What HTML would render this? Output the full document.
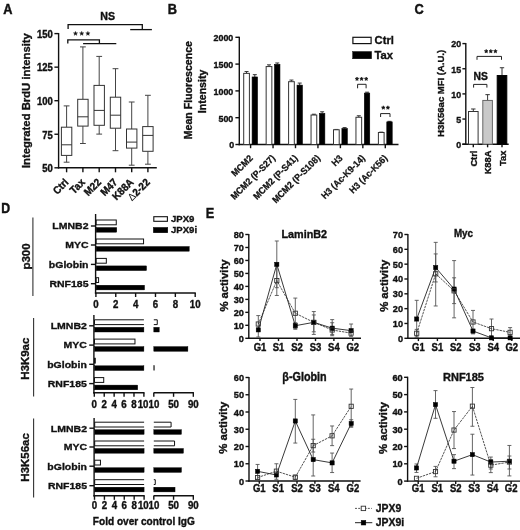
<!DOCTYPE html>
<html><head><meta charset="utf-8"><style>
html,body{margin:0;padding:0;background:#fff;overflow:hidden;}
svg{display:block;filter:grayscale(1);}
text{font-family:"Liberation Sans",sans-serif;}
</style></head><body>
<svg width="520" height="530" viewBox="0 0 520 530">
<rect x="0" y="0" width="520" height="530" fill="#fff"/>
<text transform="translate(3.30,14.00) scale(1.0,1.12)" font-size="12.8" text-anchor="start" font-weight="bold" fill="#111" stroke="#111" stroke-width="0.4" >A</text>
<line x1="58.60" y1="33.00" x2="58.60" y2="168.50" stroke="#111" stroke-width="1.4" />
<line x1="57.90" y1="167.80" x2="156.80" y2="167.80" stroke="#111" stroke-width="1.4" />
<line x1="54.40" y1="33.60" x2="58.60" y2="33.60" stroke="#111" stroke-width="1.4" />
<text transform="translate(52.80,37.90) scale(1.0,1.07)" font-size="9.5" text-anchor="end" font-weight="bold" fill="#111" stroke="#111" stroke-width="0.35" >150</text>
<line x1="54.40" y1="67.15" x2="58.60" y2="67.15" stroke="#111" stroke-width="1.4" />
<text transform="translate(52.80,71.45) scale(1.0,1.07)" font-size="9.5" text-anchor="end" font-weight="bold" fill="#111" stroke="#111" stroke-width="0.35" >125</text>
<line x1="54.40" y1="100.70" x2="58.60" y2="100.70" stroke="#111" stroke-width="1.4" />
<text transform="translate(52.80,105.00) scale(1.0,1.07)" font-size="9.5" text-anchor="end" font-weight="bold" fill="#111" stroke="#111" stroke-width="0.35" >100</text>
<line x1="54.40" y1="134.25" x2="58.60" y2="134.25" stroke="#111" stroke-width="1.4" />
<text transform="translate(52.80,138.55) scale(1.0,1.07)" font-size="9.5" text-anchor="end" font-weight="bold" fill="#111" stroke="#111" stroke-width="0.35" >75</text>
<line x1="54.40" y1="167.80" x2="58.60" y2="167.80" stroke="#111" stroke-width="1.4" />
<text transform="translate(52.80,172.10) scale(1.0,1.07)" font-size="9.5" text-anchor="end" font-weight="bold" fill="#111" stroke="#111" stroke-width="0.35" >50</text>
<text transform="translate(29.60,100.60) rotate(-90) scale(1.0,0.95)" font-size="11.3" text-anchor="middle" font-weight="bold" fill="#111" stroke="#111" stroke-width="0.35" >Integrated BrdU intensity</text>
<line x1="66.60" y1="167.80" x2="66.60" y2="172.30" stroke="#111" stroke-width="1.4" />
<line x1="82.90" y1="167.80" x2="82.90" y2="172.30" stroke="#111" stroke-width="1.4" />
<line x1="99.20" y1="167.80" x2="99.20" y2="172.30" stroke="#111" stroke-width="1.4" />
<line x1="115.50" y1="167.80" x2="115.50" y2="172.30" stroke="#111" stroke-width="1.4" />
<line x1="131.70" y1="167.80" x2="131.70" y2="172.30" stroke="#111" stroke-width="1.4" />
<line x1="147.90" y1="167.80" x2="147.90" y2="172.30" stroke="#111" stroke-width="1.4" />
<line x1="66.60" y1="105.90" x2="66.60" y2="127.20" stroke="#444" stroke-width="1.0" />
<line x1="66.60" y1="155.40" x2="66.60" y2="162.20" stroke="#444" stroke-width="1.0" />
<line x1="63.70" y1="105.90" x2="69.50" y2="105.90" stroke="#444" stroke-width="1.0" />
<line x1="63.70" y1="162.20" x2="69.50" y2="162.20" stroke="#444" stroke-width="1.0" />
<rect x="61.40" y="127.20" width="10.40" height="28.20" fill="#fff" stroke="#333" stroke-width="1.0" />
<line x1="61.40" y1="144.80" x2="71.80" y2="144.80" stroke="#333" stroke-width="1.0" />
<line x1="82.90" y1="46.90" x2="82.90" y2="99.30" stroke="#444" stroke-width="1.0" />
<line x1="82.90" y1="126.10" x2="82.90" y2="143.50" stroke="#444" stroke-width="1.0" />
<line x1="80.00" y1="46.90" x2="85.80" y2="46.90" stroke="#444" stroke-width="1.0" />
<line x1="80.00" y1="143.50" x2="85.80" y2="143.50" stroke="#444" stroke-width="1.0" />
<rect x="77.70" y="99.30" width="10.40" height="26.80" fill="#fff" stroke="#333" stroke-width="1.0" />
<line x1="77.70" y1="116.80" x2="88.10" y2="116.80" stroke="#333" stroke-width="1.0" />
<line x1="99.20" y1="56.40" x2="99.20" y2="85.40" stroke="#444" stroke-width="1.0" />
<line x1="99.20" y1="125.30" x2="99.20" y2="134.10" stroke="#444" stroke-width="1.0" />
<line x1="96.30" y1="56.40" x2="102.10" y2="56.40" stroke="#444" stroke-width="1.0" />
<line x1="96.30" y1="134.10" x2="102.10" y2="134.10" stroke="#444" stroke-width="1.0" />
<rect x="94.00" y="85.40" width="10.40" height="39.90" fill="#fff" stroke="#333" stroke-width="1.0" />
<line x1="94.00" y1="110.40" x2="104.40" y2="110.40" stroke="#333" stroke-width="1.0" />
<line x1="115.50" y1="68.70" x2="115.50" y2="97.20" stroke="#444" stroke-width="1.0" />
<line x1="115.50" y1="128.20" x2="115.50" y2="150.70" stroke="#444" stroke-width="1.0" />
<line x1="112.60" y1="68.70" x2="118.40" y2="68.70" stroke="#444" stroke-width="1.0" />
<line x1="112.60" y1="150.70" x2="118.40" y2="150.70" stroke="#444" stroke-width="1.0" />
<rect x="110.30" y="97.20" width="10.40" height="31.00" fill="#fff" stroke="#333" stroke-width="1.0" />
<line x1="110.30" y1="115.20" x2="120.70" y2="115.20" stroke="#333" stroke-width="1.0" />
<line x1="131.70" y1="102.00" x2="131.70" y2="129.00" stroke="#444" stroke-width="1.0" />
<line x1="131.70" y1="148.10" x2="131.70" y2="165.20" stroke="#444" stroke-width="1.0" />
<line x1="128.80" y1="102.00" x2="134.60" y2="102.00" stroke="#444" stroke-width="1.0" />
<line x1="128.80" y1="165.20" x2="134.60" y2="165.20" stroke="#444" stroke-width="1.0" />
<rect x="126.50" y="129.00" width="10.40" height="19.10" fill="#fff" stroke="#333" stroke-width="1.0" />
<line x1="126.50" y1="142.10" x2="136.90" y2="142.10" stroke="#333" stroke-width="1.0" />
<line x1="147.90" y1="95.30" x2="147.90" y2="126.60" stroke="#444" stroke-width="1.0" />
<line x1="147.90" y1="151.30" x2="147.90" y2="164.20" stroke="#444" stroke-width="1.0" />
<line x1="145.00" y1="95.30" x2="150.80" y2="95.30" stroke="#444" stroke-width="1.0" />
<line x1="145.00" y1="164.20" x2="150.80" y2="164.20" stroke="#444" stroke-width="1.0" />
<rect x="142.70" y="126.60" width="10.40" height="24.70" fill="#fff" stroke="#333" stroke-width="1.0" />
<line x1="142.70" y1="135.40" x2="153.10" y2="135.40" stroke="#333" stroke-width="1.0" />
<text transform="translate(69.20,183.00) rotate(-45) scale(1.0,1.08)" font-size="9.8" text-anchor="end" font-weight="bold" fill="#111" stroke="#111" stroke-width="0.35" >Ctrl</text>
<text transform="translate(85.50,183.00) rotate(-45) scale(1.0,1.08)" font-size="9.8" text-anchor="end" font-weight="bold" fill="#111" stroke="#111" stroke-width="0.35" >Tax</text>
<text transform="translate(101.80,183.00) rotate(-45) scale(1.0,1.08)" font-size="9.8" text-anchor="end" font-weight="bold" fill="#111" stroke="#111" stroke-width="0.35" >M22</text>
<text transform="translate(118.10,183.00) rotate(-45) scale(1.0,1.08)" font-size="9.8" text-anchor="end" font-weight="bold" fill="#111" stroke="#111" stroke-width="0.35" >M47</text>
<text transform="translate(134.30,183.00) rotate(-45) scale(1.0,1.08)" font-size="9.8" text-anchor="end" font-weight="bold" fill="#111" stroke="#111" stroke-width="0.35" >K88A</text>
<text transform="translate(150.50,183.0) rotate(-45) scale(1,1.08)" font-size="9.8" text-anchor="end" fill="#111"><tspan font-weight="normal">&#916;</tspan><tspan font-weight="bold" stroke="#111" stroke-width="0.35">2-22</tspan></text>
<path d="M68.1,29 V24.6 H142.3 V29.6" stroke="#111" stroke-width="1.3" fill="none" />
<line x1="130.20" y1="29.60" x2="151.90" y2="29.60" stroke="#111" stroke-width="1.3" />
<text transform="translate(107.70,19.80)" font-size="10.6" text-anchor="middle" font-weight="bold" fill="#111" stroke="#111" stroke-width="0.35" >NS</text>
<path d="M67.8,43.6 V39.9 H99.4 V43.6" stroke="#111" stroke-width="1.3" fill="none" />
<line x1="83.10" y1="43.60" x2="116.30" y2="43.60" stroke="#111" stroke-width="1.3" />
<polygon points="75.50,31.23 76.11,32.69 77.69,32.82 76.48,33.85 76.85,35.39 75.50,34.56 74.15,35.39 74.52,33.85 73.31,32.82 74.89,32.69" fill="#111" stroke="#111" stroke-width="0.3" stroke-linejoin="round"/>
<polygon points="81.70,31.23 82.31,32.69 83.89,32.82 82.68,33.85 83.05,35.39 81.70,34.56 80.35,35.39 80.72,33.85 79.51,32.82 81.09,32.69" fill="#111" stroke="#111" stroke-width="0.3" stroke-linejoin="round"/>
<polygon points="87.90,31.23 88.51,32.69 90.09,32.82 88.88,33.85 89.25,35.39 87.90,34.56 86.55,35.39 86.92,33.85 85.71,32.82 87.29,32.69" fill="#111" stroke="#111" stroke-width="0.3" stroke-linejoin="round"/>
<text transform="translate(167.80,13.80) scale(1.0,1.12)" font-size="12.8" text-anchor="start" font-weight="bold" fill="#111" stroke="#111" stroke-width="0.4" >B</text>
<line x1="239.30" y1="36.70" x2="239.30" y2="145.20" stroke="#111" stroke-width="1.4" />
<line x1="238.60" y1="144.50" x2="398.50" y2="144.50" stroke="#111" stroke-width="1.4" />
<line x1="235.40" y1="144.50" x2="239.30" y2="144.50" stroke="#111" stroke-width="1.4" />
<text transform="translate(234.30,148.40)" font-size="8.9" text-anchor="end" font-weight="bold" fill="#111" stroke="#111" stroke-width="0.35" >0</text>
<line x1="235.40" y1="117.70" x2="239.30" y2="117.70" stroke="#111" stroke-width="1.4" />
<text transform="translate(233.30,121.60)" font-size="8.9" text-anchor="end" font-weight="bold" fill="#111" stroke="#111" stroke-width="0.35" >500</text>
<line x1="235.40" y1="90.90" x2="239.30" y2="90.90" stroke="#111" stroke-width="1.4" />
<text transform="translate(233.30,94.80)" font-size="8.9" text-anchor="end" font-weight="bold" fill="#111" stroke="#111" stroke-width="0.35" >1000</text>
<line x1="235.40" y1="64.10" x2="239.30" y2="64.10" stroke="#111" stroke-width="1.4" />
<text transform="translate(233.30,68.00)" font-size="8.9" text-anchor="end" font-weight="bold" fill="#111" stroke="#111" stroke-width="0.35" >1500</text>
<line x1="235.40" y1="37.30" x2="239.30" y2="37.30" stroke="#111" stroke-width="1.4" />
<text transform="translate(233.30,41.20)" font-size="8.9" text-anchor="end" font-weight="bold" fill="#111" stroke="#111" stroke-width="0.35" >2000</text>
<text transform="translate(192.30,90.20) rotate(-90) scale(1.0,0.95)" font-size="10.6" text-anchor="middle" font-weight="bold" fill="#111" stroke="#111" stroke-width="0.35" >Mean Fluorescence</text>
<text transform="translate(206.30,91.40) rotate(-90) scale(1.0,0.95)" font-size="10.6" text-anchor="middle" font-weight="bold" fill="#111" stroke="#111" stroke-width="0.35" >Intensity</text>
<line x1="246.55" y1="71.55" x2="246.55" y2="73.37" stroke="#333" stroke-width="1.0" />
<line x1="244.55" y1="71.55" x2="248.55" y2="71.55" stroke="#333" stroke-width="1.0" />
<line x1="254.80" y1="74.66" x2="254.80" y2="76.96" stroke="#333" stroke-width="1.0" />
<line x1="252.80" y1="74.66" x2="256.80" y2="74.66" stroke="#333" stroke-width="1.0" />
<rect x="243.70" y="73.37" width="5.70" height="71.13" fill="#fff" stroke="#333" stroke-width="1.0" />
<rect x="252.10" y="76.96" width="5.40" height="67.54" fill="#000" stroke="#000" stroke-width="0.6" />
<line x1="250.60" y1="144.50" x2="250.60" y2="148.20" stroke="#111" stroke-width="1.4" />
<line x1="269.00" y1="64.85" x2="269.00" y2="66.57" stroke="#333" stroke-width="1.0" />
<line x1="267.00" y1="64.85" x2="271.00" y2="64.85" stroke="#333" stroke-width="1.0" />
<line x1="277.25" y1="62.97" x2="277.25" y2="64.37" stroke="#333" stroke-width="1.0" />
<line x1="275.25" y1="62.97" x2="279.25" y2="62.97" stroke="#333" stroke-width="1.0" />
<rect x="266.15" y="66.57" width="5.70" height="77.93" fill="#fff" stroke="#333" stroke-width="1.0" />
<rect x="274.55" y="64.37" width="5.40" height="80.13" fill="#000" stroke="#000" stroke-width="0.6" />
<line x1="273.05" y1="144.50" x2="273.05" y2="148.20" stroke="#111" stroke-width="1.4" />
<line x1="291.45" y1="80.07" x2="291.45" y2="81.68" stroke="#333" stroke-width="1.0" />
<line x1="289.45" y1="80.07" x2="293.45" y2="80.07" stroke="#333" stroke-width="1.0" />
<line x1="299.70" y1="83.07" x2="299.70" y2="85.11" stroke="#333" stroke-width="1.0" />
<line x1="297.70" y1="83.07" x2="301.70" y2="83.07" stroke="#333" stroke-width="1.0" />
<rect x="288.60" y="81.68" width="5.70" height="62.82" fill="#fff" stroke="#333" stroke-width="1.0" />
<rect x="297.00" y="85.11" width="5.40" height="59.39" fill="#000" stroke="#000" stroke-width="0.6" />
<line x1="295.50" y1="144.50" x2="295.50" y2="148.20" stroke="#111" stroke-width="1.4" />
<line x1="313.90" y1="114.22" x2="313.90" y2="115.02" stroke="#333" stroke-width="1.0" />
<line x1="311.90" y1="114.22" x2="315.90" y2="114.22" stroke="#333" stroke-width="1.0" />
<line x1="322.15" y1="111.80" x2="322.15" y2="113.47" stroke="#333" stroke-width="1.0" />
<line x1="320.15" y1="111.80" x2="324.15" y2="111.80" stroke="#333" stroke-width="1.0" />
<rect x="311.05" y="115.02" width="5.70" height="29.48" fill="#fff" stroke="#333" stroke-width="1.0" />
<rect x="319.45" y="113.47" width="5.40" height="31.03" fill="#000" stroke="#000" stroke-width="0.6" />
<line x1="317.95" y1="144.50" x2="317.95" y2="148.20" stroke="#111" stroke-width="1.4" />
<line x1="336.35" y1="129.44" x2="336.35" y2="129.76" stroke="#333" stroke-width="1.0" />
<line x1="334.35" y1="129.44" x2="338.35" y2="129.44" stroke="#333" stroke-width="1.0" />
<line x1="344.60" y1="127.62" x2="344.60" y2="128.53" stroke="#333" stroke-width="1.0" />
<line x1="342.60" y1="127.62" x2="346.60" y2="127.62" stroke="#333" stroke-width="1.0" />
<rect x="333.50" y="129.76" width="5.70" height="14.74" fill="#fff" stroke="#333" stroke-width="1.0" />
<rect x="341.90" y="128.53" width="5.40" height="15.97" fill="#000" stroke="#000" stroke-width="0.6" />
<line x1="340.40" y1="144.50" x2="340.40" y2="148.20" stroke="#111" stroke-width="1.4" />
<line x1="358.80" y1="115.77" x2="358.80" y2="117.27" stroke="#333" stroke-width="1.0" />
<line x1="356.80" y1="115.77" x2="360.80" y2="115.77" stroke="#333" stroke-width="1.0" />
<line x1="367.05" y1="92.19" x2="367.05" y2="93.10" stroke="#333" stroke-width="1.0" />
<line x1="365.05" y1="92.19" x2="369.05" y2="92.19" stroke="#333" stroke-width="1.0" />
<rect x="355.95" y="117.27" width="5.70" height="27.23" fill="#fff" stroke="#333" stroke-width="1.0" />
<rect x="364.35" y="93.10" width="5.40" height="51.40" fill="#000" stroke="#000" stroke-width="0.6" />
<line x1="362.85" y1="144.50" x2="362.85" y2="148.20" stroke="#111" stroke-width="1.4" />
<line x1="381.25" y1="132.17" x2="381.25" y2="132.49" stroke="#333" stroke-width="1.0" />
<line x1="379.25" y1="132.17" x2="383.25" y2="132.17" stroke="#333" stroke-width="1.0" />
<line x1="389.50" y1="121.34" x2="389.50" y2="121.88" stroke="#333" stroke-width="1.0" />
<line x1="387.50" y1="121.34" x2="391.50" y2="121.34" stroke="#333" stroke-width="1.0" />
<rect x="378.40" y="132.49" width="5.70" height="12.01" fill="#fff" stroke="#333" stroke-width="1.0" />
<rect x="386.80" y="121.88" width="5.40" height="22.62" fill="#000" stroke="#000" stroke-width="0.6" />
<line x1="385.30" y1="144.50" x2="385.30" y2="148.20" stroke="#111" stroke-width="1.4" />
<text transform="translate(253.40,158.80) rotate(-45) scale(1.0,1.06)" font-size="8.8" text-anchor="end" font-weight="bold" fill="#111" stroke="#111" stroke-width="0.25" >MCM2</text>
<text transform="translate(275.85,158.80) rotate(-45) scale(1.0,1.06)" font-size="8.8" text-anchor="end" font-weight="bold" fill="#111" stroke="#111" stroke-width="0.25" >MCM2 (P-S27)</text>
<text transform="translate(298.30,158.80) rotate(-45) scale(1.0,1.06)" font-size="8.8" text-anchor="end" font-weight="bold" fill="#111" stroke="#111" stroke-width="0.25" >MCM2 (P-S41)</text>
<text transform="translate(320.75,158.80) rotate(-45) scale(1.0,1.06)" font-size="8.8" text-anchor="end" font-weight="bold" fill="#111" stroke="#111" stroke-width="0.25" >MCM2 (P-S108)</text>
<text transform="translate(343.20,158.80) rotate(-45) scale(1.0,1.06)" font-size="8.8" text-anchor="end" font-weight="bold" fill="#111" stroke="#111" stroke-width="0.25" >H3</text>
<text transform="translate(365.65,158.80) rotate(-45) scale(1.0,1.06)" font-size="8.8" text-anchor="end" font-weight="bold" fill="#111" stroke="#111" stroke-width="0.25" >H3 (Ac-K9-14)</text>
<text transform="translate(388.10,158.80) rotate(-45) scale(1.0,1.06)" font-size="8.8" text-anchor="end" font-weight="bold" fill="#111" stroke="#111" stroke-width="0.25" >H3 (Ac-K56)</text>
<rect x="352.90" y="37.30" width="18.20" height="6.30" fill="#fff" stroke="#111" stroke-width="1.2" />
<text transform="translate(374.60,43.60)" font-size="11.2" text-anchor="start" font-weight="bold" fill="#111" stroke="#111" stroke-width="0.35" >Ctrl</text>
<rect x="352.60" y="51.50" width="19.00" height="7.30" fill="#000" stroke="#000" stroke-width="0.4" />
<text transform="translate(374.60,58.90)" font-size="11.2" text-anchor="start" font-weight="bold" fill="#111" stroke="#111" stroke-width="0.35" >Tax</text>
<polygon points="357.00,76.99 357.50,78.20 358.81,78.30 357.81,79.15 358.12,80.43 357.00,79.75 355.88,80.43 356.19,79.15 355.19,78.30 356.50,78.20" fill="#111" stroke="#111" stroke-width="0.6" stroke-linejoin="round"/>
<polygon points="361.60,76.99 362.10,78.20 363.41,78.30 362.41,79.15 362.72,80.43 361.60,79.75 360.48,80.43 360.79,79.15 359.79,78.30 361.10,78.20" fill="#111" stroke="#111" stroke-width="0.6" stroke-linejoin="round"/>
<polygon points="366.20,76.99 366.70,78.20 368.01,78.30 367.01,79.15 367.32,80.43 366.20,79.75 365.08,80.43 365.39,79.15 364.39,78.30 365.70,78.20" fill="#111" stroke="#111" stroke-width="0.6" stroke-linejoin="round"/>
<path d="M357.6,88.3 V84.3 H366.1 V88.3" stroke="#222" stroke-width="1.0" fill="none" />
<polygon points="383.30,105.79 383.80,107.00 385.11,107.10 384.11,107.95 384.42,109.23 383.30,108.55 382.18,109.23 382.49,107.95 381.49,107.10 382.80,107.00" fill="#111" stroke="#111" stroke-width="0.6" stroke-linejoin="round"/>
<polygon points="387.90,105.79 388.40,107.00 389.71,107.10 388.71,107.95 389.02,109.23 387.90,108.55 386.78,109.23 387.09,107.95 386.09,107.10 387.40,107.00" fill="#111" stroke="#111" stroke-width="0.6" stroke-linejoin="round"/>
<path d="M380.6,117 V113.6 H390.0 V117" stroke="#222" stroke-width="1.0" fill="none" />
<text transform="translate(414.60,13.70) scale(1.0,1.12)" font-size="12.8" text-anchor="start" font-weight="bold" fill="#111" stroke="#111" stroke-width="0.4" >C</text>
<line x1="465.80" y1="43.00" x2="465.80" y2="144.90" stroke="#111" stroke-width="1.4" />
<line x1="462.30" y1="144.20" x2="508.70" y2="144.20" stroke="#111" stroke-width="1.4" />
<line x1="462.40" y1="144.20" x2="465.80" y2="144.20" stroke="#111" stroke-width="1.4" />
<text transform="translate(461.20,148.00)" font-size="8.9" text-anchor="end" font-weight="bold" fill="#111" stroke="#111" stroke-width="0.35" >0</text>
<line x1="462.40" y1="119.05" x2="465.80" y2="119.05" stroke="#111" stroke-width="1.4" />
<text transform="translate(461.20,122.85)" font-size="8.9" text-anchor="end" font-weight="bold" fill="#111" stroke="#111" stroke-width="0.35" >5</text>
<line x1="462.40" y1="93.90" x2="465.80" y2="93.90" stroke="#111" stroke-width="1.4" />
<text transform="translate(461.20,97.70)" font-size="8.9" text-anchor="end" font-weight="bold" fill="#111" stroke="#111" stroke-width="0.35" >10</text>
<line x1="462.40" y1="68.75" x2="465.80" y2="68.75" stroke="#111" stroke-width="1.4" />
<text transform="translate(461.20,72.55)" font-size="8.9" text-anchor="end" font-weight="bold" fill="#111" stroke="#111" stroke-width="0.35" >15</text>
<line x1="462.40" y1="43.60" x2="465.80" y2="43.60" stroke="#111" stroke-width="1.4" />
<text transform="translate(461.20,47.40)" font-size="8.9" text-anchor="end" font-weight="bold" fill="#111" stroke="#111" stroke-width="0.35" >20</text>
<text transform="translate(443.60,93.40) rotate(-90)" font-size="9.5" text-anchor="middle" font-weight="bold" fill="#111" stroke="#111" stroke-width="0.35" >H3K56ac MFI (A.U.)</text>
<line x1="473.30" y1="108.99" x2="473.30" y2="111.50" stroke="#333" stroke-width="1.0" />
<line x1="471.10" y1="108.99" x2="475.50" y2="108.99" stroke="#333" stroke-width="1.0" />
<rect x="468.50" y="111.50" width="9.60" height="32.69" fill="#fff" stroke="#333" stroke-width="1.0" />
<line x1="473.30" y1="144.20" x2="473.30" y2="147.30" stroke="#111" stroke-width="1.4" />
<line x1="487.60" y1="94.65" x2="487.60" y2="100.44" stroke="#333" stroke-width="1.0" />
<line x1="485.40" y1="94.65" x2="489.80" y2="94.65" stroke="#333" stroke-width="1.0" />
<rect x="482.80" y="100.44" width="9.60" height="43.76" fill="#c9c9c9" stroke="#666" stroke-width="1.0" />
<line x1="487.60" y1="144.20" x2="487.60" y2="147.30" stroke="#111" stroke-width="1.4" />
<line x1="502.00" y1="67.74" x2="502.00" y2="75.54" stroke="#333" stroke-width="1.0" />
<line x1="499.80" y1="67.74" x2="504.20" y2="67.74" stroke="#333" stroke-width="1.0" />
<rect x="497.20" y="75.54" width="9.60" height="68.66" fill="#000" stroke="#000" stroke-width="1.0" />
<line x1="502.00" y1="144.20" x2="502.00" y2="147.30" stroke="#111" stroke-width="1.4" />
<text transform="translate(476.90,150.60) rotate(-90) scale(1.0,0.95)" font-size="9.3" text-anchor="end" font-weight="bold" fill="#111" stroke="#111" stroke-width="0.35" >Ctrl</text>
<text transform="translate(491.20,150.60) rotate(-90) scale(1.0,0.95)" font-size="9.3" text-anchor="end" font-weight="bold" fill="#111" stroke="#111" stroke-width="0.35" >K88A</text>
<text transform="translate(505.60,150.60) rotate(-90) scale(1.0,0.95)" font-size="9.3" text-anchor="end" font-weight="bold" fill="#111" stroke="#111" stroke-width="0.35" >Tax</text>
<text transform="translate(480.60,80.00)" font-size="10.3" text-anchor="middle" font-weight="bold" fill="#111" stroke="#111" stroke-width="0.35" >NS</text>
<path d="M473.6,87.6 V84.4 H486.9 V87.6" stroke="#222" stroke-width="1.0" fill="none" />
<polygon points="486.20,49.39 486.70,50.60 488.01,50.70 487.01,51.55 487.32,52.83 486.20,52.14 485.08,52.83 485.39,51.55 484.39,50.70 485.70,50.60" fill="#111" stroke="#111" stroke-width="0.6" stroke-linejoin="round"/>
<polygon points="490.80,49.39 491.30,50.60 492.61,50.70 491.61,51.55 491.92,52.83 490.80,52.14 489.68,52.83 489.99,51.55 488.99,50.70 490.30,50.60" fill="#111" stroke="#111" stroke-width="0.6" stroke-linejoin="round"/>
<polygon points="495.40,49.39 495.90,50.60 497.21,50.70 496.21,51.55 496.52,52.83 495.40,52.14 494.28,52.83 494.59,51.55 493.59,50.70 494.90,50.60" fill="#111" stroke="#111" stroke-width="0.6" stroke-linejoin="round"/>
<path d="M477.0,59.8 V56.4 H501.5 V59.8" stroke="#222" stroke-width="1.0" fill="none" />
<text transform="translate(1.20,213.20) scale(0.96,1.12)" font-size="12.8" text-anchor="start" font-weight="bold" fill="#111" stroke="#111" stroke-width="0.4" >D</text>
<line x1="32.90" y1="217.60" x2="32.90" y2="295.90" stroke="#333" stroke-width="1.1" />
<text transform="translate(29.60,256.50) rotate(-90) scale(1.0,0.96)" font-size="11.5" text-anchor="middle" font-weight="bold" fill="#111" stroke="#111" stroke-width="0.35" >p300</text>
<line x1="95.60" y1="214.00" x2="95.60" y2="293.70" stroke="#111" stroke-width="1.4" />
<line x1="90.90" y1="226.00" x2="95.60" y2="226.00" stroke="#111" stroke-width="1.4" />
<text transform="translate(88.50,229.30) scale(1.0,0.92)" font-size="10.5" text-anchor="end" font-weight="bold" fill="#111" stroke="#111" stroke-width="0.35" >LMNB2</text>
<line x1="90.90" y1="245.00" x2="95.60" y2="245.00" stroke="#111" stroke-width="1.4" />
<text transform="translate(88.50,248.30) scale(1.0,0.92)" font-size="10.5" text-anchor="end" font-weight="bold" fill="#111" stroke="#111" stroke-width="0.35" >MYC</text>
<line x1="90.90" y1="264.40" x2="95.60" y2="264.40" stroke="#111" stroke-width="1.4" />
<text transform="translate(88.50,267.70) scale(1.0,0.92)" font-size="10.5" text-anchor="end" font-weight="bold" fill="#111" stroke="#111" stroke-width="0.35" >bGlobin</text>
<line x1="90.90" y1="283.70" x2="95.60" y2="283.70" stroke="#111" stroke-width="1.4" />
<text transform="translate(88.50,287.00) scale(1.0,0.92)" font-size="10.5" text-anchor="end" font-weight="bold" fill="#111" stroke="#111" stroke-width="0.35" >RNF185</text>
<line x1="94.90" y1="293.00" x2="195.80" y2="293.00" stroke="#111" stroke-width="1.4" />
<line x1="95.90" y1="293.00" x2="95.90" y2="297.00" stroke="#111" stroke-width="1.4" />
<text transform="translate(95.90,308.20) scale(1.0,1.08)" font-size="9.700000000000001" text-anchor="middle" font-weight="bold" fill="#111" stroke="#111" stroke-width="0.35" >0</text>
<line x1="115.76" y1="293.00" x2="115.76" y2="297.00" stroke="#111" stroke-width="1.4" />
<text transform="translate(115.76,308.20) scale(1.0,1.08)" font-size="9.700000000000001" text-anchor="middle" font-weight="bold" fill="#111" stroke="#111" stroke-width="0.35" >2</text>
<line x1="135.62" y1="293.00" x2="135.62" y2="297.00" stroke="#111" stroke-width="1.4" />
<text transform="translate(135.62,308.20) scale(1.0,1.08)" font-size="9.700000000000001" text-anchor="middle" font-weight="bold" fill="#111" stroke="#111" stroke-width="0.35" >4</text>
<line x1="155.48" y1="293.00" x2="155.48" y2="297.00" stroke="#111" stroke-width="1.4" />
<text transform="translate(155.48,308.20) scale(1.0,1.08)" font-size="9.700000000000001" text-anchor="middle" font-weight="bold" fill="#111" stroke="#111" stroke-width="0.35" >6</text>
<line x1="175.34" y1="293.00" x2="175.34" y2="297.00" stroke="#111" stroke-width="1.4" />
<text transform="translate(175.34,308.20) scale(1.0,1.08)" font-size="9.700000000000001" text-anchor="middle" font-weight="bold" fill="#111" stroke="#111" stroke-width="0.35" >8</text>
<line x1="195.20" y1="293.00" x2="195.20" y2="297.00" stroke="#111" stroke-width="1.4" />
<text transform="translate(195.20,308.20) scale(1.0,1.08)" font-size="9.700000000000001" text-anchor="middle" font-weight="bold" fill="#111" stroke="#111" stroke-width="0.35" >10</text>
<rect x="96.20" y="220.00" width="20.06" height="4.80" fill="#fff" stroke="#111" stroke-width="1.0" />
<rect x="96.20" y="227.50" width="20.55" height="4.70" fill="#000" stroke="#000" stroke-width="0.4" />
<rect x="96.20" y="239.00" width="47.36" height="4.80" fill="#fff" stroke="#111" stroke-width="1.0" />
<rect x="96.20" y="246.50" width="93.04" height="4.70" fill="#000" stroke="#000" stroke-width="0.4" />
<rect x="96.20" y="258.40" width="10.13" height="4.80" fill="#fff" stroke="#111" stroke-width="1.0" />
<rect x="96.20" y="265.90" width="50.34" height="4.70" fill="#000" stroke="#000" stroke-width="0.4" />
<rect x="96.20" y="277.70" width="2.38" height="4.80" fill="#fff" stroke="#111" stroke-width="1.0" />
<rect x="96.20" y="285.20" width="48.36" height="4.70" fill="#000" stroke="#000" stroke-width="0.4" />
<line x1="33.60" y1="318.00" x2="33.60" y2="396.60" stroke="#333" stroke-width="1.1" />
<text transform="translate(29.00,358.70) rotate(-90) scale(1.0,0.96)" font-size="11.5" text-anchor="middle" font-weight="bold" fill="#111" stroke="#111" stroke-width="0.35" >H3K9ac</text>
<line x1="93.90" y1="315.00" x2="93.90" y2="393.50" stroke="#111" stroke-width="1.4" />
<line x1="89.20" y1="325.80" x2="93.90" y2="325.80" stroke="#111" stroke-width="1.4" />
<text transform="translate(86.80,329.10) scale(1.0,0.92)" font-size="10.5" text-anchor="end" font-weight="bold" fill="#111" stroke="#111" stroke-width="0.35" >LMNB2</text>
<line x1="89.20" y1="345.10" x2="93.90" y2="345.10" stroke="#111" stroke-width="1.4" />
<text transform="translate(86.80,348.40) scale(1.0,0.92)" font-size="10.5" text-anchor="end" font-weight="bold" fill="#111" stroke="#111" stroke-width="0.35" >MYC</text>
<line x1="89.20" y1="364.30" x2="93.90" y2="364.30" stroke="#111" stroke-width="1.4" />
<text transform="translate(86.80,367.60) scale(1.0,0.92)" font-size="10.5" text-anchor="end" font-weight="bold" fill="#111" stroke="#111" stroke-width="0.35" >bGlobin</text>
<line x1="89.20" y1="383.60" x2="93.90" y2="383.60" stroke="#111" stroke-width="1.4" />
<text transform="translate(86.80,386.90) scale(1.0,0.92)" font-size="10.5" text-anchor="end" font-weight="bold" fill="#111" stroke="#111" stroke-width="0.35" >RNF185</text>
<line x1="93.20" y1="392.80" x2="144.50" y2="392.80" stroke="#111" stroke-width="1.4" />
<line x1="153.60" y1="392.80" x2="193.92" y2="392.80" stroke="#111" stroke-width="1.4" />
<line x1="94.30" y1="392.80" x2="94.30" y2="396.80" stroke="#111" stroke-width="1.4" />
<line x1="104.22" y1="392.80" x2="104.22" y2="396.80" stroke="#111" stroke-width="1.4" />
<line x1="114.14" y1="392.80" x2="114.14" y2="396.80" stroke="#111" stroke-width="1.4" />
<line x1="124.06" y1="392.80" x2="124.06" y2="396.80" stroke="#111" stroke-width="1.4" />
<line x1="133.98" y1="392.80" x2="133.98" y2="396.80" stroke="#111" stroke-width="1.4" />
<line x1="143.90" y1="392.80" x2="143.90" y2="396.80" stroke="#111" stroke-width="1.4" />
<line x1="153.80" y1="392.80" x2="153.80" y2="396.80" stroke="#111" stroke-width="1.4" />
<line x1="173.56" y1="392.80" x2="173.56" y2="396.80" stroke="#111" stroke-width="1.4" />
<line x1="193.32" y1="392.80" x2="193.32" y2="396.80" stroke="#111" stroke-width="1.4" />
<text transform="translate(94.30,407.60) scale(1.0,1.08)" font-size="9.700000000000001" text-anchor="middle" font-weight="bold" fill="#111" stroke="#111" stroke-width="0.35" >0</text>
<text transform="translate(104.22,407.60) scale(1.0,1.08)" font-size="9.700000000000001" text-anchor="middle" font-weight="bold" fill="#111" stroke="#111" stroke-width="0.35" >2</text>
<text transform="translate(114.14,407.60) scale(1.0,1.08)" font-size="9.700000000000001" text-anchor="middle" font-weight="bold" fill="#111" stroke="#111" stroke-width="0.35" >4</text>
<text transform="translate(124.06,407.60) scale(1.0,1.08)" font-size="9.700000000000001" text-anchor="middle" font-weight="bold" fill="#111" stroke="#111" stroke-width="0.35" >6</text>
<text transform="translate(133.98,407.60) scale(1.0,1.08)" font-size="9.700000000000001" text-anchor="middle" font-weight="bold" fill="#111" stroke="#111" stroke-width="0.35" >8</text>
<text transform="translate(143.10,407.60) scale(1.0,1.08)" font-size="9.700000000000001" text-anchor="middle" font-weight="bold" fill="#111" stroke="#111" stroke-width="0.35" >10</text>
<text transform="translate(153.90,407.60) scale(1.0,1.08)" font-size="9.700000000000001" text-anchor="middle" font-weight="bold" fill="#111" stroke="#111" stroke-width="0.35" >10</text>
<text transform="translate(173.56,407.60) scale(1.0,1.08)" font-size="9.700000000000001" text-anchor="middle" font-weight="bold" fill="#111" stroke="#111" stroke-width="0.35" >50</text>
<text transform="translate(193.32,407.60) scale(1.0,1.08)" font-size="9.700000000000001" text-anchor="middle" font-weight="bold" fill="#111" stroke="#111" stroke-width="0.35" >90</text>
<path d="M143.90,319.80 H94.50 V324.60 H143.90" stroke="#111" stroke-width="1.0" fill="none" />
<path d="M153.8,319.80 H157.26 V324.60 H153.8" stroke="#111" stroke-width="1.0" fill="none" />
<rect x="94.50" y="327.30" width="49.40" height="4.70" fill="#000" stroke="#000" stroke-width="0.4" />
<rect x="153.80" y="327.30" width="5.43" height="4.70" fill="#000" stroke="#000" stroke-width="0.4" />
<rect x="94.50" y="339.10" width="40.47" height="4.80" fill="#fff" stroke="#111" stroke-width="1.0" />
<rect x="94.50" y="346.60" width="49.40" height="4.70" fill="#000" stroke="#000" stroke-width="0.4" />
<rect x="153.80" y="346.60" width="34.09" height="4.70" fill="#000" stroke="#000" stroke-width="0.4" />
<rect x="94.50" y="358.30" width="0.79" height="4.80" fill="#fff" stroke="#111" stroke-width="1.0" />
<rect x="94.50" y="365.80" width="49.40" height="4.70" fill="#000" stroke="#000" stroke-width="0.4" />
<rect x="153.80" y="365.80" width="0.50" height="4.70" fill="#000" stroke="#000" stroke-width="0.4" />
<rect x="94.50" y="377.60" width="9.22" height="4.80" fill="#fff" stroke="#111" stroke-width="1.0" />
<rect x="94.50" y="385.10" width="43.20" height="4.70" fill="#000" stroke="#000" stroke-width="0.4" />
<line x1="33.60" y1="418.40" x2="33.60" y2="497.50" stroke="#333" stroke-width="1.1" />
<text transform="translate(29.00,457.40) rotate(-90) scale(1.0,0.96)" font-size="11.5" text-anchor="middle" font-weight="bold" fill="#111" stroke="#111" stroke-width="0.35" >H3K56ac</text>
<line x1="94.10" y1="418.00" x2="94.10" y2="496.50" stroke="#111" stroke-width="1.4" />
<line x1="89.40" y1="428.20" x2="94.10" y2="428.20" stroke="#111" stroke-width="1.4" />
<text transform="translate(87.00,431.50) scale(1.0,0.92)" font-size="10.5" text-anchor="end" font-weight="bold" fill="#111" stroke="#111" stroke-width="0.35" >LMNB2</text>
<line x1="89.40" y1="447.00" x2="94.10" y2="447.00" stroke="#111" stroke-width="1.4" />
<text transform="translate(87.00,450.30) scale(1.0,0.92)" font-size="10.5" text-anchor="end" font-weight="bold" fill="#111" stroke="#111" stroke-width="0.35" >MYC</text>
<line x1="89.40" y1="466.20" x2="94.10" y2="466.20" stroke="#111" stroke-width="1.4" />
<text transform="translate(87.00,469.50) scale(1.0,0.92)" font-size="10.5" text-anchor="end" font-weight="bold" fill="#111" stroke="#111" stroke-width="0.35" >bGlobin</text>
<line x1="89.40" y1="485.70" x2="94.10" y2="485.70" stroke="#111" stroke-width="1.4" />
<text transform="translate(87.00,489.00) scale(1.0,0.92)" font-size="10.5" text-anchor="end" font-weight="bold" fill="#111" stroke="#111" stroke-width="0.35" >RNF185</text>
<line x1="93.40" y1="495.80" x2="144.70" y2="495.80" stroke="#111" stroke-width="1.4" />
<line x1="153.60" y1="495.80" x2="193.92" y2="495.80" stroke="#111" stroke-width="1.4" />
<line x1="94.50" y1="495.80" x2="94.50" y2="499.80" stroke="#111" stroke-width="1.4" />
<line x1="104.42" y1="495.80" x2="104.42" y2="499.80" stroke="#111" stroke-width="1.4" />
<line x1="114.34" y1="495.80" x2="114.34" y2="499.80" stroke="#111" stroke-width="1.4" />
<line x1="124.26" y1="495.80" x2="124.26" y2="499.80" stroke="#111" stroke-width="1.4" />
<line x1="134.18" y1="495.80" x2="134.18" y2="499.80" stroke="#111" stroke-width="1.4" />
<line x1="144.10" y1="495.80" x2="144.10" y2="499.80" stroke="#111" stroke-width="1.4" />
<line x1="153.80" y1="495.80" x2="153.80" y2="499.80" stroke="#111" stroke-width="1.4" />
<line x1="173.56" y1="495.80" x2="173.56" y2="499.80" stroke="#111" stroke-width="1.4" />
<line x1="193.32" y1="495.80" x2="193.32" y2="499.80" stroke="#111" stroke-width="1.4" />
<text transform="translate(94.50,509.30) scale(1.0,1.08)" font-size="9.700000000000001" text-anchor="middle" font-weight="bold" fill="#111" stroke="#111" stroke-width="0.35" >0</text>
<text transform="translate(104.42,509.30) scale(1.0,1.08)" font-size="9.700000000000001" text-anchor="middle" font-weight="bold" fill="#111" stroke="#111" stroke-width="0.35" >2</text>
<text transform="translate(114.34,509.30) scale(1.0,1.08)" font-size="9.700000000000001" text-anchor="middle" font-weight="bold" fill="#111" stroke="#111" stroke-width="0.35" >4</text>
<text transform="translate(124.26,509.30) scale(1.0,1.08)" font-size="9.700000000000001" text-anchor="middle" font-weight="bold" fill="#111" stroke="#111" stroke-width="0.35" >6</text>
<text transform="translate(134.18,509.30) scale(1.0,1.08)" font-size="9.700000000000001" text-anchor="middle" font-weight="bold" fill="#111" stroke="#111" stroke-width="0.35" >8</text>
<text transform="translate(143.30,509.30) scale(1.0,1.08)" font-size="9.700000000000001" text-anchor="middle" font-weight="bold" fill="#111" stroke="#111" stroke-width="0.35" >10</text>
<text transform="translate(153.90,509.30) scale(1.0,1.08)" font-size="9.700000000000001" text-anchor="middle" font-weight="bold" fill="#111" stroke="#111" stroke-width="0.35" >10</text>
<text transform="translate(173.56,509.30) scale(1.0,1.08)" font-size="9.700000000000001" text-anchor="middle" font-weight="bold" fill="#111" stroke="#111" stroke-width="0.35" >50</text>
<text transform="translate(193.32,509.30) scale(1.0,1.08)" font-size="9.700000000000001" text-anchor="middle" font-weight="bold" fill="#111" stroke="#111" stroke-width="0.35" >90</text>
<path d="M144.10,422.20 H94.70 V427.00 H144.10" stroke="#111" stroke-width="1.0" fill="none" />
<path d="M153.8,422.20 H171.09 V427.00 H153.8" stroke="#111" stroke-width="1.0" fill="none" />
<rect x="94.70" y="429.70" width="49.40" height="4.70" fill="#000" stroke="#000" stroke-width="0.4" />
<rect x="153.80" y="429.70" width="27.66" height="4.70" fill="#000" stroke="#000" stroke-width="0.4" />
<path d="M144.10,441.00 H94.70 V445.80 H144.10" stroke="#111" stroke-width="1.0" fill="none" />
<path d="M153.8,441.00 H174.55 V445.80 H153.8" stroke="#111" stroke-width="1.0" fill="none" />
<rect x="94.70" y="448.50" width="49.40" height="4.70" fill="#000" stroke="#000" stroke-width="0.4" />
<rect x="153.80" y="448.50" width="29.64" height="4.70" fill="#000" stroke="#000" stroke-width="0.4" />
<rect x="94.70" y="460.20" width="5.75" height="4.80" fill="#fff" stroke="#111" stroke-width="1.0" />
<rect x="94.70" y="467.70" width="49.40" height="4.70" fill="#000" stroke="#000" stroke-width="0.4" />
<rect x="153.80" y="467.70" width="27.66" height="4.70" fill="#000" stroke="#000" stroke-width="0.4" />
<path d="M144.10,479.70 H94.70 V484.50 H144.10" stroke="#111" stroke-width="1.0" fill="none" />
<path d="M153.8,479.70 H155.28 V484.50 H153.8" stroke="#111" stroke-width="1.0" fill="none" />
<rect x="94.70" y="487.20" width="49.40" height="4.70" fill="#000" stroke="#000" stroke-width="0.4" />
<rect x="153.80" y="487.20" width="21.24" height="4.70" fill="#000" stroke="#000" stroke-width="0.4" />
<rect x="153.80" y="216.70" width="13.60" height="4.60" fill="#fff" stroke="#111" stroke-width="1.1" />
<text transform="translate(170.90,222.30) scale(1.0,0.95)" font-size="9.6" text-anchor="start" font-weight="bold" fill="#111" stroke="#111" stroke-width="0.35" >JPX9</text>
<rect x="153.30" y="227.40" width="14.50" height="5.40" fill="#000" stroke="#000" stroke-width="0.4" />
<text transform="translate(170.90,233.00) scale(1.0,0.95)" font-size="9.6" text-anchor="start" font-weight="bold" fill="#111" stroke="#111" stroke-width="0.35" >JPX9i</text>
<text transform="translate(143.80,524.50) scale(1.0,1.08)" font-size="10.1" text-anchor="middle" font-weight="bold" fill="#111" stroke="#111" stroke-width="0.35" >Fold over control IgG</text>
<text transform="translate(205.80,218.00) scale(1.0,1.12)" font-size="12.8" text-anchor="start" font-weight="bold" fill="#111" stroke="#111" stroke-width="0.35" >E</text>
<line x1="248.80" y1="233.90" x2="248.80" y2="339.00" stroke="#111" stroke-width="1.4" />
<line x1="248.10" y1="338.30" x2="361.00" y2="338.30" stroke="#111" stroke-width="1.4" />
<line x1="245.30" y1="338.30" x2="248.80" y2="338.30" stroke="#111" stroke-width="1.4" />
<text transform="translate(243.90,341.80) scale(1.0,1.05)" font-size="9.2" text-anchor="end" font-weight="bold" fill="#111" stroke="#111" stroke-width="0.35" >0</text>
<line x1="245.30" y1="325.32" x2="248.80" y2="325.32" stroke="#111" stroke-width="1.4" />
<text transform="translate(243.90,328.82) scale(1.0,1.05)" font-size="9.2" text-anchor="end" font-weight="bold" fill="#111" stroke="#111" stroke-width="0.35" >10</text>
<line x1="245.30" y1="312.35" x2="248.80" y2="312.35" stroke="#111" stroke-width="1.4" />
<text transform="translate(243.90,315.85) scale(1.0,1.05)" font-size="9.2" text-anchor="end" font-weight="bold" fill="#111" stroke="#111" stroke-width="0.35" >20</text>
<line x1="245.30" y1="299.38" x2="248.80" y2="299.38" stroke="#111" stroke-width="1.4" />
<text transform="translate(243.90,302.88) scale(1.0,1.05)" font-size="9.2" text-anchor="end" font-weight="bold" fill="#111" stroke="#111" stroke-width="0.35" >30</text>
<line x1="245.30" y1="286.40" x2="248.80" y2="286.40" stroke="#111" stroke-width="1.4" />
<text transform="translate(243.90,289.90) scale(1.0,1.05)" font-size="9.2" text-anchor="end" font-weight="bold" fill="#111" stroke="#111" stroke-width="0.35" >40</text>
<line x1="245.30" y1="273.43" x2="248.80" y2="273.43" stroke="#111" stroke-width="1.4" />
<text transform="translate(243.90,276.93) scale(1.0,1.05)" font-size="9.2" text-anchor="end" font-weight="bold" fill="#111" stroke="#111" stroke-width="0.35" >50</text>
<line x1="245.30" y1="260.45" x2="248.80" y2="260.45" stroke="#111" stroke-width="1.4" />
<text transform="translate(243.90,263.95) scale(1.0,1.05)" font-size="9.2" text-anchor="end" font-weight="bold" fill="#111" stroke="#111" stroke-width="0.35" >60</text>
<line x1="245.30" y1="247.48" x2="248.80" y2="247.48" stroke="#111" stroke-width="1.4" />
<text transform="translate(243.90,250.98) scale(1.0,1.05)" font-size="9.2" text-anchor="end" font-weight="bold" fill="#111" stroke="#111" stroke-width="0.35" >70</text>
<line x1="245.30" y1="234.50" x2="248.80" y2="234.50" stroke="#111" stroke-width="1.4" />
<text transform="translate(243.90,238.00) scale(1.0,1.05)" font-size="9.2" text-anchor="end" font-weight="bold" fill="#111" stroke="#111" stroke-width="0.35" >80</text>
<line x1="260.00" y1="338.30" x2="260.00" y2="341.10" stroke="#111" stroke-width="1.4" />
<text transform="translate(260.00,351.00) scale(1.0,1.1)" font-size="9.5" text-anchor="middle" font-weight="bold" fill="#111" stroke="#111" stroke-width="0.35" >G1</text>
<line x1="278.50" y1="338.30" x2="278.50" y2="341.10" stroke="#111" stroke-width="1.4" />
<text transform="translate(278.50,351.00) scale(1.0,1.1)" font-size="9.5" text-anchor="middle" font-weight="bold" fill="#111" stroke="#111" stroke-width="0.35" >S1</text>
<line x1="297.00" y1="338.30" x2="297.00" y2="341.10" stroke="#111" stroke-width="1.4" />
<text transform="translate(297.00,351.00) scale(1.0,1.1)" font-size="9.5" text-anchor="middle" font-weight="bold" fill="#111" stroke="#111" stroke-width="0.35" >S2</text>
<line x1="315.50" y1="338.30" x2="315.50" y2="341.10" stroke="#111" stroke-width="1.4" />
<text transform="translate(315.50,351.00) scale(1.0,1.1)" font-size="9.5" text-anchor="middle" font-weight="bold" fill="#111" stroke="#111" stroke-width="0.35" >S3</text>
<line x1="333.90" y1="338.30" x2="333.90" y2="341.10" stroke="#111" stroke-width="1.4" />
<text transform="translate(333.90,351.00) scale(1.0,1.1)" font-size="9.5" text-anchor="middle" font-weight="bold" fill="#111" stroke="#111" stroke-width="0.35" >S4</text>
<line x1="352.80" y1="338.30" x2="352.80" y2="341.10" stroke="#111" stroke-width="1.4" />
<text transform="translate(352.80,351.00) scale(1.0,1.1)" font-size="9.5" text-anchor="middle" font-weight="bold" fill="#111" stroke="#111" stroke-width="0.35" >G2</text>
<text transform="translate(304.30,238.00)" font-size="10.8" text-anchor="middle" font-weight="bold" fill="#111" stroke="#111" stroke-width="0.35" >LaminB2</text>
<text transform="translate(227.50,285.60) rotate(-90) scale(1.0,0.98)" font-size="11.3" text-anchor="middle" font-weight="bold" fill="#111" stroke="#111" stroke-width="0.35" >% activity</text>
<line x1="258.30" y1="315.59" x2="258.30" y2="337.00" stroke="#555" stroke-width="0.9" />
<line x1="256.30" y1="315.59" x2="260.30" y2="315.59" stroke="#555" stroke-width="0.9" />
<line x1="256.30" y1="337.00" x2="260.30" y2="337.00" stroke="#555" stroke-width="0.9" />
<line x1="276.80" y1="240.99" x2="276.80" y2="287.70" stroke="#555" stroke-width="0.9" />
<line x1="274.80" y1="240.99" x2="278.80" y2="240.99" stroke="#555" stroke-width="0.9" />
<line x1="274.80" y1="287.70" x2="278.80" y2="287.70" stroke="#555" stroke-width="0.9" />
<line x1="276.80" y1="265.64" x2="276.80" y2="295.48" stroke="#555" stroke-width="0.9" />
<line x1="274.80" y1="265.64" x2="278.80" y2="265.64" stroke="#555" stroke-width="0.9" />
<line x1="274.80" y1="295.48" x2="278.80" y2="295.48" stroke="#555" stroke-width="0.9" />
<line x1="295.30" y1="298.08" x2="295.30" y2="329.22" stroke="#555" stroke-width="0.9" />
<line x1="293.30" y1="298.08" x2="297.30" y2="298.08" stroke="#555" stroke-width="0.9" />
<line x1="293.30" y1="329.22" x2="297.30" y2="329.22" stroke="#555" stroke-width="0.9" />
<line x1="295.30" y1="322.73" x2="295.30" y2="328.57" stroke="#555" stroke-width="0.9" />
<line x1="293.30" y1="322.73" x2="297.30" y2="322.73" stroke="#555" stroke-width="0.9" />
<line x1="293.30" y1="328.57" x2="297.30" y2="328.57" stroke="#555" stroke-width="0.9" />
<line x1="313.80" y1="311.57" x2="313.80" y2="331.81" stroke="#555" stroke-width="0.9" />
<line x1="311.80" y1="311.57" x2="315.80" y2="311.57" stroke="#555" stroke-width="0.9" />
<line x1="311.80" y1="331.81" x2="315.80" y2="331.81" stroke="#555" stroke-width="0.9" />
<line x1="313.80" y1="314.94" x2="313.80" y2="334.41" stroke="#555" stroke-width="0.9" />
<line x1="311.80" y1="314.94" x2="315.80" y2="314.94" stroke="#555" stroke-width="0.9" />
<line x1="311.80" y1="334.41" x2="315.80" y2="334.41" stroke="#555" stroke-width="0.9" />
<line x1="332.20" y1="319.62" x2="332.20" y2="335.70" stroke="#555" stroke-width="0.9" />
<line x1="330.20" y1="319.62" x2="334.20" y2="319.62" stroke="#555" stroke-width="0.9" />
<line x1="330.20" y1="335.70" x2="334.20" y2="335.70" stroke="#555" stroke-width="0.9" />
<line x1="332.20" y1="322.73" x2="332.20" y2="334.41" stroke="#555" stroke-width="0.9" />
<line x1="330.20" y1="322.73" x2="334.20" y2="322.73" stroke="#555" stroke-width="0.9" />
<line x1="330.20" y1="334.41" x2="334.20" y2="334.41" stroke="#555" stroke-width="0.9" />
<line x1="351.10" y1="324.03" x2="351.10" y2="336.35" stroke="#555" stroke-width="0.9" />
<line x1="349.10" y1="324.03" x2="353.10" y2="324.03" stroke="#555" stroke-width="0.9" />
<line x1="349.10" y1="336.35" x2="353.10" y2="336.35" stroke="#555" stroke-width="0.9" />
<polyline points="258.30,324.03 276.80,280.56 295.30,313.26 313.80,322.34 332.20,330.00 351.10,333.11" fill="none" stroke="#333" stroke-width="0.85" stroke-dasharray="2.4,0.9"/>
<polyline points="258.30,329.87 276.80,264.34 295.30,325.71 313.80,322.34 332.20,328.18 351.10,330.64" fill="none" stroke="#222" stroke-width="0.9"/>
<rect x="256.20" y="327.77" width="4.20" height="4.20" fill="#000" stroke="#000" stroke-width="0.5" />
<rect x="274.70" y="262.24" width="4.20" height="4.20" fill="#000" stroke="#000" stroke-width="0.5" />
<rect x="293.20" y="323.61" width="4.20" height="4.20" fill="#000" stroke="#000" stroke-width="0.5" />
<rect x="311.70" y="320.24" width="4.20" height="4.20" fill="#000" stroke="#000" stroke-width="0.5" />
<rect x="330.10" y="326.08" width="4.20" height="4.20" fill="#000" stroke="#000" stroke-width="0.5" />
<rect x="349.00" y="328.54" width="4.20" height="4.20" fill="#000" stroke="#000" stroke-width="0.5" />
<rect x="256.20" y="321.93" width="4.20" height="4.20" fill="none" stroke="#333" stroke-width="0.9" />
<rect x="274.70" y="278.46" width="4.20" height="4.20" fill="none" stroke="#333" stroke-width="0.9" />
<rect x="293.20" y="311.16" width="4.20" height="4.20" fill="none" stroke="#333" stroke-width="0.9" />
<rect x="311.70" y="320.24" width="4.20" height="4.20" fill="none" stroke="#333" stroke-width="0.9" />
<rect x="330.10" y="327.90" width="4.20" height="4.20" fill="none" stroke="#333" stroke-width="0.9" />
<rect x="349.00" y="331.01" width="4.20" height="4.20" fill="none" stroke="#333" stroke-width="0.9" />
<line x1="407.90" y1="233.90" x2="407.90" y2="339.00" stroke="#111" stroke-width="1.4" />
<line x1="407.20" y1="338.30" x2="520.00" y2="338.30" stroke="#111" stroke-width="1.4" />
<line x1="404.40" y1="338.30" x2="407.90" y2="338.30" stroke="#111" stroke-width="1.4" />
<text transform="translate(403.00,341.80) scale(1.0,1.05)" font-size="9.2" text-anchor="end" font-weight="bold" fill="#111" stroke="#111" stroke-width="0.35" >0</text>
<line x1="404.40" y1="323.47" x2="407.90" y2="323.47" stroke="#111" stroke-width="1.4" />
<text transform="translate(403.00,326.97) scale(1.0,1.05)" font-size="9.2" text-anchor="end" font-weight="bold" fill="#111" stroke="#111" stroke-width="0.35" >10</text>
<line x1="404.40" y1="308.64" x2="407.90" y2="308.64" stroke="#111" stroke-width="1.4" />
<text transform="translate(403.00,312.14) scale(1.0,1.05)" font-size="9.2" text-anchor="end" font-weight="bold" fill="#111" stroke="#111" stroke-width="0.35" >20</text>
<line x1="404.40" y1="293.81" x2="407.90" y2="293.81" stroke="#111" stroke-width="1.4" />
<text transform="translate(403.00,297.31) scale(1.0,1.05)" font-size="9.2" text-anchor="end" font-weight="bold" fill="#111" stroke="#111" stroke-width="0.35" >30</text>
<line x1="404.40" y1="278.99" x2="407.90" y2="278.99" stroke="#111" stroke-width="1.4" />
<text transform="translate(403.00,282.49) scale(1.0,1.05)" font-size="9.2" text-anchor="end" font-weight="bold" fill="#111" stroke="#111" stroke-width="0.35" >40</text>
<line x1="404.40" y1="264.16" x2="407.90" y2="264.16" stroke="#111" stroke-width="1.4" />
<text transform="translate(403.00,267.66) scale(1.0,1.05)" font-size="9.2" text-anchor="end" font-weight="bold" fill="#111" stroke="#111" stroke-width="0.35" >50</text>
<line x1="404.40" y1="249.33" x2="407.90" y2="249.33" stroke="#111" stroke-width="1.4" />
<text transform="translate(403.00,252.83) scale(1.0,1.05)" font-size="9.2" text-anchor="end" font-weight="bold" fill="#111" stroke="#111" stroke-width="0.35" >60</text>
<line x1="404.40" y1="234.50" x2="407.90" y2="234.50" stroke="#111" stroke-width="1.4" />
<text transform="translate(403.00,238.00) scale(1.0,1.05)" font-size="9.2" text-anchor="end" font-weight="bold" fill="#111" stroke="#111" stroke-width="0.35" >70</text>
<line x1="418.40" y1="338.30" x2="418.40" y2="341.10" stroke="#111" stroke-width="1.4" />
<text transform="translate(418.40,351.00) scale(1.0,1.1)" font-size="9.5" text-anchor="middle" font-weight="bold" fill="#111" stroke="#111" stroke-width="0.35" >G1</text>
<line x1="437.40" y1="338.30" x2="437.40" y2="341.10" stroke="#111" stroke-width="1.4" />
<text transform="translate(437.40,351.00) scale(1.0,1.1)" font-size="9.5" text-anchor="middle" font-weight="bold" fill="#111" stroke="#111" stroke-width="0.35" >S1</text>
<line x1="455.80" y1="338.30" x2="455.80" y2="341.10" stroke="#111" stroke-width="1.4" />
<text transform="translate(455.80,351.00) scale(1.0,1.1)" font-size="9.5" text-anchor="middle" font-weight="bold" fill="#111" stroke="#111" stroke-width="0.35" >S2</text>
<line x1="474.70" y1="338.30" x2="474.70" y2="341.10" stroke="#111" stroke-width="1.4" />
<text transform="translate(474.70,351.00) scale(1.0,1.1)" font-size="9.5" text-anchor="middle" font-weight="bold" fill="#111" stroke="#111" stroke-width="0.35" >S3</text>
<line x1="493.20" y1="338.30" x2="493.20" y2="341.10" stroke="#111" stroke-width="1.4" />
<text transform="translate(493.20,351.00) scale(1.0,1.1)" font-size="9.5" text-anchor="middle" font-weight="bold" fill="#111" stroke="#111" stroke-width="0.35" >S4</text>
<line x1="511.80" y1="338.30" x2="511.80" y2="341.10" stroke="#111" stroke-width="1.4" />
<text transform="translate(511.80,351.00) scale(1.0,1.1)" font-size="9.5" text-anchor="middle" font-weight="bold" fill="#111" stroke="#111" stroke-width="0.35" >G2</text>
<text transform="translate(463.40,237.10) scale(1.0,1.12)" font-size="9.8" text-anchor="middle" font-weight="bold" fill="#111" stroke="#111" stroke-width="0.35" >Myc</text>
<text transform="translate(387.50,285.80) rotate(-90) scale(1.0,0.98)" font-size="11.3" text-anchor="middle" font-weight="bold" fill="#111" stroke="#111" stroke-width="0.35" >% activity</text>
<line x1="416.70" y1="300.34" x2="416.70" y2="337.56" stroke="#555" stroke-width="0.9" />
<line x1="414.70" y1="300.34" x2="418.70" y2="300.34" stroke="#555" stroke-width="0.9" />
<line x1="414.70" y1="337.56" x2="418.70" y2="337.56" stroke="#555" stroke-width="0.9" />
<line x1="416.70" y1="329.40" x2="416.70" y2="336.82" stroke="#555" stroke-width="0.9" />
<line x1="414.70" y1="329.40" x2="418.70" y2="329.40" stroke="#555" stroke-width="0.9" />
<line x1="414.70" y1="336.82" x2="418.70" y2="336.82" stroke="#555" stroke-width="0.9" />
<line x1="435.70" y1="253.93" x2="435.70" y2="281.95" stroke="#555" stroke-width="0.9" />
<line x1="433.70" y1="253.93" x2="437.70" y2="253.93" stroke="#555" stroke-width="0.9" />
<line x1="433.70" y1="281.95" x2="437.70" y2="281.95" stroke="#555" stroke-width="0.9" />
<line x1="435.70" y1="242.36" x2="435.70" y2="305.97" stroke="#555" stroke-width="0.9" />
<line x1="433.70" y1="242.36" x2="437.70" y2="242.36" stroke="#555" stroke-width="0.9" />
<line x1="433.70" y1="305.97" x2="437.70" y2="305.97" stroke="#555" stroke-width="0.9" />
<line x1="454.10" y1="260.60" x2="454.10" y2="317.84" stroke="#555" stroke-width="0.9" />
<line x1="452.10" y1="260.60" x2="456.10" y2="260.60" stroke="#555" stroke-width="0.9" />
<line x1="452.10" y1="317.84" x2="456.10" y2="317.84" stroke="#555" stroke-width="0.9" />
<line x1="454.10" y1="277.80" x2="454.10" y2="303.60" stroke="#555" stroke-width="0.9" />
<line x1="452.10" y1="277.80" x2="456.10" y2="277.80" stroke="#555" stroke-width="0.9" />
<line x1="452.10" y1="303.60" x2="456.10" y2="303.60" stroke="#555" stroke-width="0.9" />
<line x1="473.00" y1="310.42" x2="473.00" y2="333.85" stroke="#555" stroke-width="0.9" />
<line x1="471.00" y1="310.42" x2="475.00" y2="310.42" stroke="#555" stroke-width="0.9" />
<line x1="471.00" y1="333.85" x2="475.00" y2="333.85" stroke="#555" stroke-width="0.9" />
<line x1="491.50" y1="319.02" x2="491.50" y2="338.30" stroke="#555" stroke-width="0.9" />
<line x1="489.50" y1="319.02" x2="493.50" y2="319.02" stroke="#555" stroke-width="0.9" />
<line x1="489.50" y1="338.30" x2="493.50" y2="338.30" stroke="#555" stroke-width="0.9" />
<line x1="510.10" y1="327.62" x2="510.10" y2="336.82" stroke="#555" stroke-width="0.9" />
<line x1="508.10" y1="327.62" x2="512.10" y2="327.62" stroke="#555" stroke-width="0.9" />
<line x1="508.10" y1="336.82" x2="512.10" y2="336.82" stroke="#555" stroke-width="0.9" />
<polyline points="416.70,333.26 435.70,273.80 454.10,290.85 473.00,321.99 491.50,328.66 510.10,332.37" fill="none" stroke="#333" stroke-width="0.85" stroke-dasharray="2.4,0.9"/>
<polyline points="416.70,319.02 435.70,267.57 454.10,289.07 473.00,331.03 491.50,337.86 510.10,337.86" fill="none" stroke="#222" stroke-width="0.9"/>
<rect x="414.60" y="316.92" width="4.20" height="4.20" fill="#000" stroke="#000" stroke-width="0.5" />
<rect x="433.60" y="265.47" width="4.20" height="4.20" fill="#000" stroke="#000" stroke-width="0.5" />
<rect x="452.00" y="286.97" width="4.20" height="4.20" fill="#000" stroke="#000" stroke-width="0.5" />
<rect x="470.90" y="328.93" width="4.20" height="4.20" fill="#000" stroke="#000" stroke-width="0.5" />
<rect x="489.40" y="335.76" width="4.20" height="4.20" fill="#000" stroke="#000" stroke-width="0.5" />
<rect x="508.00" y="335.76" width="4.20" height="4.20" fill="#000" stroke="#000" stroke-width="0.5" />
<rect x="414.60" y="331.16" width="4.20" height="4.20" fill="none" stroke="#333" stroke-width="0.9" />
<rect x="433.60" y="271.70" width="4.20" height="4.20" fill="none" stroke="#333" stroke-width="0.9" />
<rect x="452.00" y="288.75" width="4.20" height="4.20" fill="none" stroke="#333" stroke-width="0.9" />
<rect x="470.90" y="319.89" width="4.20" height="4.20" fill="none" stroke="#333" stroke-width="0.9" />
<rect x="489.40" y="326.56" width="4.20" height="4.20" fill="none" stroke="#333" stroke-width="0.9" />
<rect x="508.00" y="330.27" width="4.20" height="4.20" fill="none" stroke="#333" stroke-width="0.9" />
<line x1="249.00" y1="376.90" x2="249.00" y2="481.70" stroke="#111" stroke-width="1.4" />
<line x1="248.30" y1="481.00" x2="360.60" y2="481.00" stroke="#111" stroke-width="1.4" />
<line x1="245.50" y1="481.00" x2="249.00" y2="481.00" stroke="#111" stroke-width="1.4" />
<text transform="translate(244.10,484.50) scale(1.0,1.05)" font-size="9.2" text-anchor="end" font-weight="bold" fill="#111" stroke="#111" stroke-width="0.35" >0</text>
<line x1="245.50" y1="463.75" x2="249.00" y2="463.75" stroke="#111" stroke-width="1.4" />
<text transform="translate(244.10,467.25) scale(1.0,1.05)" font-size="9.2" text-anchor="end" font-weight="bold" fill="#111" stroke="#111" stroke-width="0.35" >10</text>
<line x1="245.50" y1="446.50" x2="249.00" y2="446.50" stroke="#111" stroke-width="1.4" />
<text transform="translate(244.10,450.00) scale(1.0,1.05)" font-size="9.2" text-anchor="end" font-weight="bold" fill="#111" stroke="#111" stroke-width="0.35" >20</text>
<line x1="245.50" y1="429.25" x2="249.00" y2="429.25" stroke="#111" stroke-width="1.4" />
<text transform="translate(244.10,432.75) scale(1.0,1.05)" font-size="9.2" text-anchor="end" font-weight="bold" fill="#111" stroke="#111" stroke-width="0.35" >30</text>
<line x1="245.50" y1="412.00" x2="249.00" y2="412.00" stroke="#111" stroke-width="1.4" />
<text transform="translate(244.10,415.50) scale(1.0,1.05)" font-size="9.2" text-anchor="end" font-weight="bold" fill="#111" stroke="#111" stroke-width="0.35" >40</text>
<line x1="245.50" y1="394.75" x2="249.00" y2="394.75" stroke="#111" stroke-width="1.4" />
<text transform="translate(244.10,398.25) scale(1.0,1.05)" font-size="9.2" text-anchor="end" font-weight="bold" fill="#111" stroke="#111" stroke-width="0.35" >50</text>
<line x1="245.50" y1="377.50" x2="249.00" y2="377.50" stroke="#111" stroke-width="1.4" />
<text transform="translate(244.10,381.00) scale(1.0,1.05)" font-size="9.2" text-anchor="end" font-weight="bold" fill="#111" stroke="#111" stroke-width="0.35" >60</text>
<line x1="259.30" y1="481.00" x2="259.30" y2="483.80" stroke="#111" stroke-width="1.4" />
<text transform="translate(259.30,492.30) scale(1.0,1.1)" font-size="9.5" text-anchor="middle" font-weight="bold" fill="#111" stroke="#111" stroke-width="0.35" >G1</text>
<line x1="278.10" y1="481.00" x2="278.10" y2="483.80" stroke="#111" stroke-width="1.4" />
<text transform="translate(278.10,492.30) scale(1.0,1.1)" font-size="9.5" text-anchor="middle" font-weight="bold" fill="#111" stroke="#111" stroke-width="0.35" >S1</text>
<line x1="297.00" y1="481.00" x2="297.00" y2="483.80" stroke="#111" stroke-width="1.4" />
<text transform="translate(297.00,492.30) scale(1.0,1.1)" font-size="9.5" text-anchor="middle" font-weight="bold" fill="#111" stroke="#111" stroke-width="0.35" >S2</text>
<line x1="314.90" y1="481.00" x2="314.90" y2="483.80" stroke="#111" stroke-width="1.4" />
<text transform="translate(314.90,492.30) scale(1.0,1.1)" font-size="9.5" text-anchor="middle" font-weight="bold" fill="#111" stroke="#111" stroke-width="0.35" >S3</text>
<line x1="333.80" y1="481.00" x2="333.80" y2="483.80" stroke="#111" stroke-width="1.4" />
<text transform="translate(333.80,492.30) scale(1.0,1.1)" font-size="9.5" text-anchor="middle" font-weight="bold" fill="#111" stroke="#111" stroke-width="0.35" >S4</text>
<line x1="352.90" y1="481.00" x2="352.90" y2="483.80" stroke="#111" stroke-width="1.4" />
<text transform="translate(352.90,492.30) scale(1.0,1.1)" font-size="9.5" text-anchor="middle" font-weight="bold" fill="#111" stroke="#111" stroke-width="0.35" >G2</text>
<text transform="translate(304.50,380.60) scale(1.0,1.1)" font-size="10.8" text-anchor="middle" font-weight="bold" fill="#111" stroke="#111" stroke-width="0.35" >&#946;-Globin</text>
<text transform="translate(227.20,427.70) rotate(-90) scale(1.0,0.98)" font-size="11.3" text-anchor="middle" font-weight="bold" fill="#111" stroke="#111" stroke-width="0.35" >% activity</text>
<line x1="257.60" y1="464.44" x2="257.60" y2="479.27" stroke="#555" stroke-width="0.9" />
<line x1="255.60" y1="464.44" x2="259.60" y2="464.44" stroke="#555" stroke-width="0.9" />
<line x1="255.60" y1="479.27" x2="259.60" y2="479.27" stroke="#555" stroke-width="0.9" />
<line x1="276.40" y1="463.75" x2="276.40" y2="479.27" stroke="#555" stroke-width="0.9" />
<line x1="274.40" y1="463.75" x2="278.40" y2="463.75" stroke="#555" stroke-width="0.9" />
<line x1="274.40" y1="479.27" x2="278.40" y2="479.27" stroke="#555" stroke-width="0.9" />
<line x1="295.30" y1="399.41" x2="295.30" y2="443.05" stroke="#555" stroke-width="0.9" />
<line x1="293.30" y1="399.41" x2="297.30" y2="399.41" stroke="#555" stroke-width="0.9" />
<line x1="293.30" y1="443.05" x2="297.30" y2="443.05" stroke="#555" stroke-width="0.9" />
<line x1="295.30" y1="475.13" x2="295.30" y2="479.27" stroke="#555" stroke-width="0.9" />
<line x1="293.30" y1="475.13" x2="297.30" y2="475.13" stroke="#555" stroke-width="0.9" />
<line x1="293.30" y1="479.27" x2="297.30" y2="479.27" stroke="#555" stroke-width="0.9" />
<line x1="313.20" y1="414.93" x2="313.20" y2="476.00" stroke="#555" stroke-width="0.9" />
<line x1="311.20" y1="414.93" x2="315.20" y2="414.93" stroke="#555" stroke-width="0.9" />
<line x1="311.20" y1="476.00" x2="315.20" y2="476.00" stroke="#555" stroke-width="0.9" />
<line x1="313.20" y1="439.25" x2="313.20" y2="452.02" stroke="#555" stroke-width="0.9" />
<line x1="311.20" y1="439.25" x2="315.20" y2="439.25" stroke="#555" stroke-width="0.9" />
<line x1="311.20" y1="452.02" x2="315.20" y2="452.02" stroke="#555" stroke-width="0.9" />
<line x1="332.10" y1="453.06" x2="332.10" y2="472.55" stroke="#555" stroke-width="0.9" />
<line x1="330.10" y1="453.06" x2="334.10" y2="453.06" stroke="#555" stroke-width="0.9" />
<line x1="330.10" y1="472.55" x2="334.10" y2="472.55" stroke="#555" stroke-width="0.9" />
<line x1="332.10" y1="425.97" x2="332.10" y2="445.64" stroke="#555" stroke-width="0.9" />
<line x1="330.10" y1="425.97" x2="334.10" y2="425.97" stroke="#555" stroke-width="0.9" />
<line x1="330.10" y1="445.64" x2="334.10" y2="445.64" stroke="#555" stroke-width="0.9" />
<line x1="351.20" y1="389.06" x2="351.20" y2="427.18" stroke="#555" stroke-width="0.9" />
<line x1="349.20" y1="389.06" x2="353.20" y2="389.06" stroke="#555" stroke-width="0.9" />
<line x1="349.20" y1="427.18" x2="353.20" y2="427.18" stroke="#555" stroke-width="0.9" />
<line x1="351.20" y1="419.76" x2="351.20" y2="426.66" stroke="#555" stroke-width="0.9" />
<line x1="349.20" y1="419.76" x2="353.20" y2="419.76" stroke="#555" stroke-width="0.9" />
<line x1="349.20" y1="426.66" x2="353.20" y2="426.66" stroke="#555" stroke-width="0.9" />
<polyline points="257.60,477.55 276.40,471.17 295.30,477.20 313.20,445.64 332.10,435.81 351.20,406.31" fill="none" stroke="#333" stroke-width="0.85" stroke-dasharray="2.4,0.9"/>
<polyline points="257.60,471.34 276.40,474.96 295.30,420.97 313.20,459.61 332.10,462.89 351.20,423.56" fill="none" stroke="#222" stroke-width="0.9"/>
<rect x="255.50" y="469.24" width="4.20" height="4.20" fill="#000" stroke="#000" stroke-width="0.5" />
<rect x="274.30" y="472.86" width="4.20" height="4.20" fill="#000" stroke="#000" stroke-width="0.5" />
<rect x="293.20" y="418.87" width="4.20" height="4.20" fill="#000" stroke="#000" stroke-width="0.5" />
<rect x="311.10" y="457.51" width="4.20" height="4.20" fill="#000" stroke="#000" stroke-width="0.5" />
<rect x="330.00" y="460.79" width="4.20" height="4.20" fill="#000" stroke="#000" stroke-width="0.5" />
<rect x="349.10" y="421.46" width="4.20" height="4.20" fill="#000" stroke="#000" stroke-width="0.5" />
<rect x="255.50" y="475.45" width="4.20" height="4.20" fill="none" stroke="#333" stroke-width="0.9" />
<rect x="274.30" y="469.07" width="4.20" height="4.20" fill="none" stroke="#333" stroke-width="0.9" />
<rect x="293.20" y="475.10" width="4.20" height="4.20" fill="none" stroke="#333" stroke-width="0.9" />
<rect x="311.10" y="443.54" width="4.20" height="4.20" fill="none" stroke="#333" stroke-width="0.9" />
<rect x="330.00" y="433.70" width="4.20" height="4.20" fill="none" stroke="#333" stroke-width="0.9" />
<rect x="349.10" y="404.21" width="4.20" height="4.20" fill="none" stroke="#333" stroke-width="0.9" />
<line x1="407.60" y1="376.70" x2="407.60" y2="481.80" stroke="#111" stroke-width="1.4" />
<line x1="406.90" y1="481.10" x2="520.00" y2="481.10" stroke="#111" stroke-width="1.4" />
<line x1="404.10" y1="481.10" x2="407.60" y2="481.10" stroke="#111" stroke-width="1.4" />
<text transform="translate(402.70,484.60) scale(1.0,1.05)" font-size="9.2" text-anchor="end" font-weight="bold" fill="#111" stroke="#111" stroke-width="0.35" >0</text>
<line x1="404.10" y1="463.80" x2="407.60" y2="463.80" stroke="#111" stroke-width="1.4" />
<text transform="translate(402.70,467.30) scale(1.0,1.05)" font-size="9.2" text-anchor="end" font-weight="bold" fill="#111" stroke="#111" stroke-width="0.35" >10</text>
<line x1="404.10" y1="446.50" x2="407.60" y2="446.50" stroke="#111" stroke-width="1.4" />
<text transform="translate(402.70,450.00) scale(1.0,1.05)" font-size="9.2" text-anchor="end" font-weight="bold" fill="#111" stroke="#111" stroke-width="0.35" >20</text>
<line x1="404.10" y1="429.20" x2="407.60" y2="429.20" stroke="#111" stroke-width="1.4" />
<text transform="translate(402.70,432.70) scale(1.0,1.05)" font-size="9.2" text-anchor="end" font-weight="bold" fill="#111" stroke="#111" stroke-width="0.35" >30</text>
<line x1="404.10" y1="411.90" x2="407.60" y2="411.90" stroke="#111" stroke-width="1.4" />
<text transform="translate(402.70,415.40) scale(1.0,1.05)" font-size="9.2" text-anchor="end" font-weight="bold" fill="#111" stroke="#111" stroke-width="0.35" >40</text>
<line x1="404.10" y1="394.60" x2="407.60" y2="394.60" stroke="#111" stroke-width="1.4" />
<text transform="translate(402.70,398.10) scale(1.0,1.05)" font-size="9.2" text-anchor="end" font-weight="bold" fill="#111" stroke="#111" stroke-width="0.35" >50</text>
<line x1="404.10" y1="377.30" x2="407.60" y2="377.30" stroke="#111" stroke-width="1.4" />
<text transform="translate(402.70,380.80) scale(1.0,1.05)" font-size="9.2" text-anchor="end" font-weight="bold" fill="#111" stroke="#111" stroke-width="0.35" >60</text>
<line x1="418.20" y1="481.10" x2="418.20" y2="483.90" stroke="#111" stroke-width="1.4" />
<text transform="translate(418.20,492.30) scale(1.0,1.1)" font-size="9.5" text-anchor="middle" font-weight="bold" fill="#111" stroke="#111" stroke-width="0.35" >G1</text>
<line x1="437.20" y1="481.10" x2="437.20" y2="483.90" stroke="#111" stroke-width="1.4" />
<text transform="translate(437.20,492.30) scale(1.0,1.1)" font-size="9.5" text-anchor="middle" font-weight="bold" fill="#111" stroke="#111" stroke-width="0.35" >S1</text>
<line x1="455.70" y1="481.10" x2="455.70" y2="483.90" stroke="#111" stroke-width="1.4" />
<text transform="translate(455.70,492.30) scale(1.0,1.1)" font-size="9.5" text-anchor="middle" font-weight="bold" fill="#111" stroke="#111" stroke-width="0.35" >S2</text>
<line x1="474.10" y1="481.10" x2="474.10" y2="483.90" stroke="#111" stroke-width="1.4" />
<text transform="translate(474.10,492.30) scale(1.0,1.1)" font-size="9.5" text-anchor="middle" font-weight="bold" fill="#111" stroke="#111" stroke-width="0.35" >S3</text>
<line x1="492.50" y1="481.10" x2="492.50" y2="483.90" stroke="#111" stroke-width="1.4" />
<text transform="translate(492.50,492.30) scale(1.0,1.1)" font-size="9.5" text-anchor="middle" font-weight="bold" fill="#111" stroke="#111" stroke-width="0.35" >S4</text>
<line x1="511.10" y1="481.10" x2="511.10" y2="483.90" stroke="#111" stroke-width="1.4" />
<text transform="translate(511.10,492.30) scale(1.0,1.1)" font-size="9.5" text-anchor="middle" font-weight="bold" fill="#111" stroke="#111" stroke-width="0.35" >G2</text>
<text transform="translate(463.50,380.60) scale(1.0,1.06)" font-size="11.0" text-anchor="middle" font-weight="bold" fill="#111" stroke="#111" stroke-width="0.35" >RNF185</text>
<text transform="translate(387.00,428.00) rotate(-90) scale(1.0,0.98)" font-size="11.3" text-anchor="middle" font-weight="bold" fill="#111" stroke="#111" stroke-width="0.35" >% activity</text>
<line x1="416.50" y1="463.97" x2="416.50" y2="472.45" stroke="#555" stroke-width="0.9" />
<line x1="414.50" y1="463.97" x2="418.50" y2="463.97" stroke="#555" stroke-width="0.9" />
<line x1="414.50" y1="472.45" x2="418.50" y2="472.45" stroke="#555" stroke-width="0.9" />
<line x1="435.50" y1="390.62" x2="435.50" y2="418.30" stroke="#555" stroke-width="0.9" />
<line x1="433.50" y1="390.62" x2="437.50" y2="390.62" stroke="#555" stroke-width="0.9" />
<line x1="433.50" y1="418.30" x2="437.50" y2="418.30" stroke="#555" stroke-width="0.9" />
<line x1="435.50" y1="466.40" x2="435.50" y2="476.78" stroke="#555" stroke-width="0.9" />
<line x1="433.50" y1="466.40" x2="437.50" y2="466.40" stroke="#555" stroke-width="0.9" />
<line x1="433.50" y1="476.78" x2="437.50" y2="476.78" stroke="#555" stroke-width="0.9" />
<line x1="454.00" y1="411.55" x2="454.00" y2="448.58" stroke="#555" stroke-width="0.9" />
<line x1="452.00" y1="411.55" x2="456.00" y2="411.55" stroke="#555" stroke-width="0.9" />
<line x1="452.00" y1="448.58" x2="456.00" y2="448.58" stroke="#555" stroke-width="0.9" />
<line x1="454.00" y1="454.63" x2="454.00" y2="468.64" stroke="#555" stroke-width="0.9" />
<line x1="452.00" y1="454.63" x2="456.00" y2="454.63" stroke="#555" stroke-width="0.9" />
<line x1="452.00" y1="468.64" x2="456.00" y2="468.64" stroke="#555" stroke-width="0.9" />
<line x1="472.40" y1="387.51" x2="472.40" y2="426.26" stroke="#555" stroke-width="0.9" />
<line x1="470.40" y1="387.51" x2="474.40" y2="387.51" stroke="#555" stroke-width="0.9" />
<line x1="470.40" y1="426.26" x2="474.40" y2="426.26" stroke="#555" stroke-width="0.9" />
<line x1="472.40" y1="434.22" x2="472.40" y2="475.05" stroke="#555" stroke-width="0.9" />
<line x1="470.40" y1="434.22" x2="474.40" y2="434.22" stroke="#555" stroke-width="0.9" />
<line x1="470.40" y1="475.05" x2="474.40" y2="475.05" stroke="#555" stroke-width="0.9" />
<line x1="490.80" y1="457.05" x2="490.80" y2="472.62" stroke="#555" stroke-width="0.9" />
<line x1="488.80" y1="457.05" x2="492.80" y2="457.05" stroke="#555" stroke-width="0.9" />
<line x1="488.80" y1="472.62" x2="492.80" y2="472.62" stroke="#555" stroke-width="0.9" />
<line x1="490.80" y1="459.48" x2="490.80" y2="468.99" stroke="#555" stroke-width="0.9" />
<line x1="488.80" y1="459.48" x2="492.80" y2="459.48" stroke="#555" stroke-width="0.9" />
<line x1="488.80" y1="468.99" x2="492.80" y2="468.99" stroke="#555" stroke-width="0.9" />
<line x1="509.40" y1="445.46" x2="509.40" y2="475.91" stroke="#555" stroke-width="0.9" />
<line x1="507.40" y1="445.46" x2="511.40" y2="445.46" stroke="#555" stroke-width="0.9" />
<line x1="507.40" y1="475.91" x2="511.40" y2="475.91" stroke="#555" stroke-width="0.9" />
<line x1="509.40" y1="456.02" x2="509.40" y2="468.99" stroke="#555" stroke-width="0.9" />
<line x1="507.40" y1="456.02" x2="511.40" y2="456.02" stroke="#555" stroke-width="0.9" />
<line x1="507.40" y1="468.99" x2="511.40" y2="468.99" stroke="#555" stroke-width="0.9" />
<polyline points="416.50,478.33 435.50,471.59 454.00,430.06 472.40,406.19 490.80,465.18 509.40,462.07" fill="none" stroke="#333" stroke-width="0.85" stroke-dasharray="2.4,0.9"/>
<polyline points="416.50,467.95 435.50,404.63 454.00,461.21 472.40,454.63 490.80,462.07 509.40,461.21" fill="none" stroke="#222" stroke-width="0.9"/>
<rect x="414.40" y="465.85" width="4.20" height="4.20" fill="#000" stroke="#000" stroke-width="0.5" />
<rect x="433.40" y="402.53" width="4.20" height="4.20" fill="#000" stroke="#000" stroke-width="0.5" />
<rect x="451.90" y="459.11" width="4.20" height="4.20" fill="#000" stroke="#000" stroke-width="0.5" />
<rect x="470.30" y="452.53" width="4.20" height="4.20" fill="#000" stroke="#000" stroke-width="0.5" />
<rect x="488.70" y="459.97" width="4.20" height="4.20" fill="#000" stroke="#000" stroke-width="0.5" />
<rect x="507.30" y="459.11" width="4.20" height="4.20" fill="#000" stroke="#000" stroke-width="0.5" />
<rect x="414.40" y="476.23" width="4.20" height="4.20" fill="none" stroke="#333" stroke-width="0.9" />
<rect x="433.40" y="469.49" width="4.20" height="4.20" fill="none" stroke="#333" stroke-width="0.9" />
<rect x="451.90" y="427.96" width="4.20" height="4.20" fill="none" stroke="#333" stroke-width="0.9" />
<rect x="470.30" y="404.09" width="4.20" height="4.20" fill="none" stroke="#333" stroke-width="0.9" />
<rect x="488.70" y="463.08" width="4.20" height="4.20" fill="none" stroke="#333" stroke-width="0.9" />
<rect x="507.30" y="459.97" width="4.20" height="4.20" fill="none" stroke="#333" stroke-width="0.9" />
<line x1="355" y1="508.4" x2="371.8" y2="508.4" stroke="#444" stroke-width="0.9" stroke-dasharray="2,1.2"/>
<rect x="361.20" y="506.20" width="4.40" height="4.40" fill="#fff" stroke="#333" stroke-width="0.9" />
<text transform="translate(375.80,511.70)" font-size="10.4" text-anchor="start" font-weight="bold" fill="#111" stroke="#111" stroke-width="0.35" >JPX9</text>
<line x1="355.00" y1="522.70" x2="372.30" y2="522.70" stroke="#222" stroke-width="1.0" />
<rect x="361.20" y="520.40" width="4.60" height="4.60" fill="#000" stroke="#000" stroke-width="0.5" />
<text transform="translate(375.80,526.10)" font-size="10.4" text-anchor="start" font-weight="bold" fill="#111" stroke="#111" stroke-width="0.35" >JPX9i</text>
</svg>
</body></html>
